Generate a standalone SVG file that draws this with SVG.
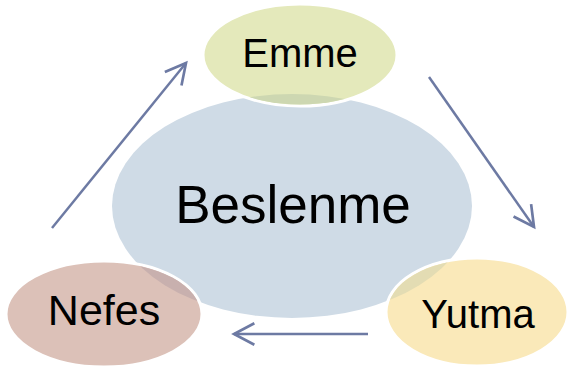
<svg xmlns="http://www.w3.org/2000/svg" width="567" height="371" viewBox="0 0 567 371">
<style>
.lbl{font-family:"Liberation Sans",Arial,sans-serif;fill:#000;text-anchor:middle}
.node{stroke:#fff;stroke-width:3}
.arr{fill:none;stroke:#6d7aa3;stroke-width:2.5;marker-end:url(#ah)}
</style>
<defs>
<marker id="ah" markerUnits="userSpaceOnUse" markerWidth="30" markerHeight="30" viewBox="-24 -14 28 28" refX="0" refY="0" orient="auto">
<path d="M-19,-10 L0,0 L-19,10" fill="none" stroke="#6d7aa3" stroke-width="2.5"/>
</marker>
<clipPath id="cc"><ellipse cx="292" cy="206" rx="180" ry="112"/></clipPath>
</defs>
<g id="beslenme">
<ellipse cx="292" cy="206" rx="180" ry="112" fill="#cfdbe6"/>
<text class="lbl" x="293" y="223" font-size="53">Beslenme</text>
</g>
<g id="emme">
<ellipse class="node" cx="300" cy="55" rx="97" ry="51" fill="#e4e9bb"/>
<ellipse cx="300" cy="55" rx="95.5" ry="49.5" fill="#cdd7b1" clip-path="url(#cc)"/>
<text class="lbl" x="300" y="67" font-size="40">Emme</text>
</g>
<g id="nefes">
<ellipse class="node" cx="104" cy="314" rx="98" ry="53" fill="#dcc1b8"/>
<ellipse cx="104" cy="314" rx="96.5" ry="51.5" fill="#c8b0ae" clip-path="url(#cc)"/>
<text class="lbl" x="104" y="325" font-size="43">Nefes</text>
</g>
<g id="yutma">
<ellipse class="node" cx="477" cy="312" rx="91" ry="54" fill="#fae9b9"/>
<ellipse cx="477" cy="312" rx="89.5" ry="52.5" fill="#e3dcb3" clip-path="url(#cc)"/>
<text class="lbl" x="478" y="328" font-size="40">Yutma</text>
</g>
<g id="connectors">
<path class="arr" d="M52,228 L186,63"/>
<path class="arr" d="M429,77 L534,227"/>
<path class="arr" d="M368,334 L234,334"/>
</g>
</svg>
